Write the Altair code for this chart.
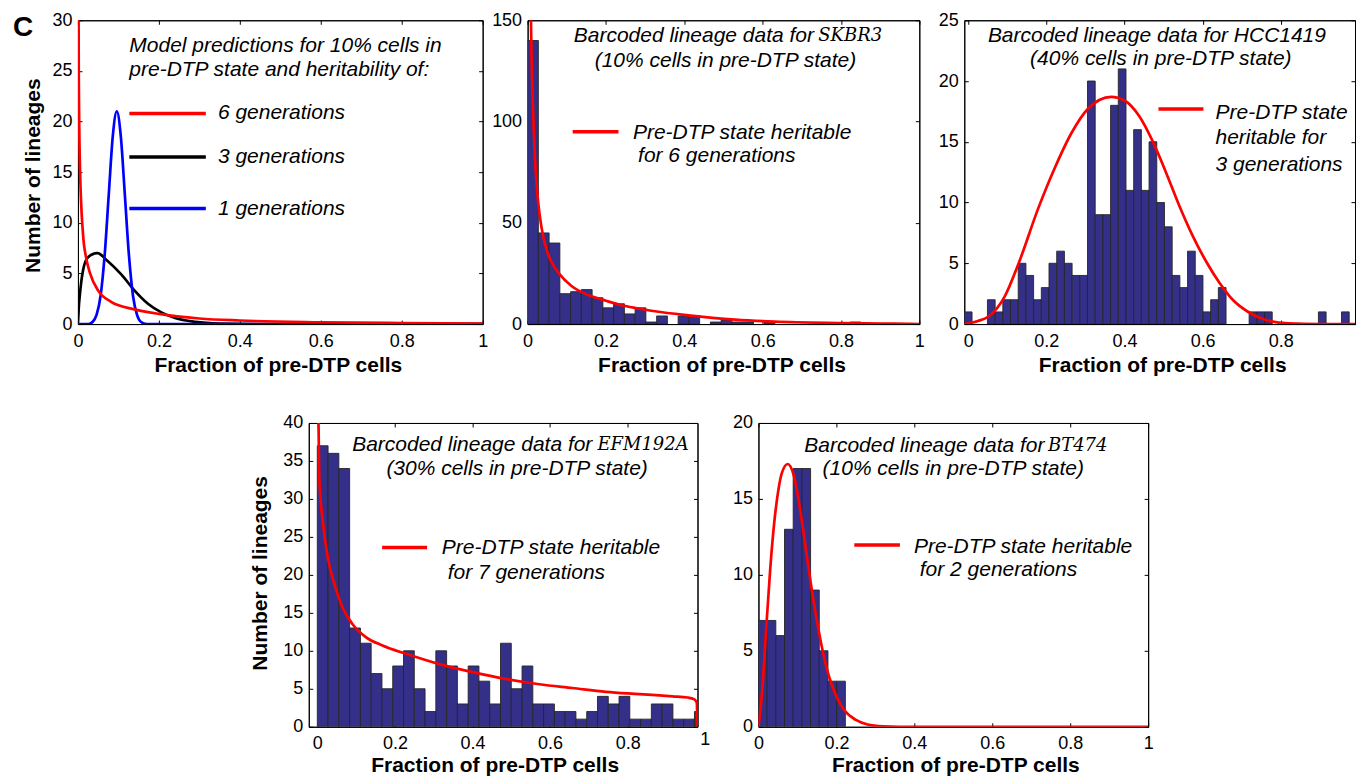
import altair as alt
import pandas as pd

# ---------------- values ----------------
# Panel 1: model predictions (10% pre-DTP), heritability of 6 / 3 / 1 generations
M6_X = [0.0005, 0.002, 0.005, 0.0125, 0.02, 0.03, 0.05, 0.082, 0.14, 0.2, 0.3, 0.4, 0.6, 0.8, 1.0]
M6_Y = [45, 25, 15.5, 8.9, 6.6, 5.0, 3.3, 2.2, 1.45, 1.0, 0.55, 0.35, 0.18, 0.1, 0.05]
M3_X = [0.0, 0.002, 0.005, 0.0125, 0.025, 0.048, 0.074, 0.107, 0.14, 0.173, 0.206, 0.24, 0.29, 0.35, 0.45, 1.0]
M3_Y = [0.0, 1.6, 3.0, 5.3, 6.6, 7.0, 6.2, 4.9, 3.3, 2.0, 1.15, 0.6, 0.22, 0.05, 0.0, 0.0]
M1_X = [0.0, 0.026, 0.036, 0.046, 0.056, 0.066, 0.076, 0.086, 0.096, 0.106, 0.116, 0.126, 0.136, 0.146, 0.156, 0.17, 1.0]
M1_Y = [0.0, 0.0, 0.2, 0.9, 2.8, 6.8, 12.7, 18.5, 21.0, 18.5, 12.7, 6.8, 2.8, 0.9, 0.2, 0.0, 0.0]

# Panel 2: SKBR3
SK_COUNTS = [140, 45, 40, 15, 16, 17, 13, 8, 10, 5, 8, 1, 4, 0, 4, 4, 0, 1, 2, 1, 1, 0, 1, 0, 0, 0, 0, 0, 0, 0, 1]
SK_BIN = 0.02745
SK_FIT_X = [0.004, 0.0085, 0.0144, 0.023, 0.03, 0.038, 0.048, 0.06, 0.082, 0.112, 0.155, 0.2, 0.24, 0.28, 0.325, 0.41, 0.53, 0.63, 0.8, 0.9, 0.97, 1.0]
SK_FIT_Y = [280, 152, 103, 69, 55, 45, 37, 31, 24.5, 18.8, 14.3, 11.5, 9.3, 7.8, 6.3, 4.3, 2.2, 1.2, 0.5, 0.25, 0.1, 0.03]

# Panel 3: HCC1419
HCC_COUNTS = [1, 0, 0, 2, 1, 2, 2, 5, 4, 2, 3, 5, 6, 5, 4, 4, 20, 9, 9, 18,
              21, 11, 16, 11, 15, 10, 8, 4, 3, 6, 4, 1, 2, 3, 0, 0, 0, 1, 1, 1,
              0, 0, 0, 0, 0, 0, 1, 0, 0, 1]
HCC_BIN = 0.0197
HCC_FIT_X = [-0.01, 0.0, 0.025, 0.051, 0.094, 0.128, 0.179, 0.221, 0.264, 0.306, 0.366, 0.40, 0.438,
             0.472, 0.506, 0.540, 0.574, 0.609, 0.643, 0.677, 0.719, 0.762, 0.82, 0.9, 0.99]
HCC_FIT_Y = [0.0, 0.05, 0.25, 0.6, 2.3, 4.9, 9.5, 12.8, 15.7, 17.7, 18.7, 18.4, 17.1,
             15.05, 12.5, 9.76, 7.3, 5.15, 3.4, 2.0, 0.95, 0.33, 0.05, 0.0, 0.0]

# Panel 4: EFM192A
EFM_COUNTS = [37, 36, 34, 13, 11, 7, 5, 8, 10, 5, 2, 10, 8, 3, 8, 6, 3, 11, 5, 8,
              3, 3, 2, 2, 1, 2, 4, 3, 4, 1, 1, 3, 3, 1, 1, 2]
EFM_BIN = 1 / 36
EFM_FIT_X = [0.001, 0.005, 0.014, 0.027, 0.044, 0.065, 0.091, 0.125, 0.168, 0.229, 0.314, 0.40,
             0.486, 0.572, 0.658, 0.744, 0.83, 0.916, 0.955, 0.972, 0.978, 0.98]
EFM_FIT_Y = [48, 32.8, 27.1, 22.3, 18.8, 15.7, 13.5, 11.8, 10.7, 9.6, 8.25, 7.2,
             6.3, 5.6, 5.1, 4.6, 4.3, 4.0, 3.85, 3.6, 3.2, 0.0]

# Panel 5: BT474
BT_COUNTS = [7, 7, 6, 13, 17, 17, 9, 5, 3, 3]
BT_BIN = 0.0223
BT_FIT_X = [0.0, 0.01, 0.02, 0.03, 0.04, 0.05, 0.06, 0.075, 0.09, 0.10, 0.11, 0.12, 0.13, 0.14,
            0.15, 0.16, 0.17, 0.18, 0.20, 0.22, 0.25, 0.28, 0.32, 0.36, 1.0]
BT_FIT_Y = [0.0, 2.5, 6.5, 10.3, 13.3, 15.4, 16.7, 17.3, 16.6, 15.4, 13.8, 12.0, 10.2, 8.5,
            7.0, 5.6, 4.4, 3.4, 2.0, 1.1, 0.45, 0.15, 0.03, 0.0, 0.0]

X_TICKS = [0, 0.2, 0.4, 0.6, 0.8, 1]
XTITLE = "Fraction of pre-DTP cells"
YTITLE = "Number of lineages"

# ---------------- styling ----------------
SANS = "Liberation Sans"
SERIF = "DejaVu Serif"
BAR_FILL = "#34308a"
RED, BLACK, BLUE = "#ff0000", "#000000", "#0000ff"
INWARD = {"expr": "-4"}


def scales(xdom, ydom):
    return (alt.Scale(domain=xdom, nice=False, zero=False),
            alt.Scale(domain=ydom, nice=False, zero=False))


def enc_xy(xf, yf, xsc, ysc):
    return dict(x=alt.X(xf, scale=xsc, axis=None), y=alt.Y(yf, scale=ysc, axis=None))


def bar_layer(counts, width, start, xsc, ysc):
    lo = [start + k * width for k in range(len(counts))]
    df = pd.DataFrame({"x0": lo, "x1": [v + width for v in lo], "n": counts, "z": [0] * len(counts)})
    df = df[df["n"] > 0]
    return alt.Chart(df).mark_rect(fill=BAR_FILL, stroke="#262626", strokeWidth=0.9, clip=True).encode(
        x2="x1:Q", y2="z:Q", **enc_xy("x0:Q", "n:Q", xsc, ysc))


def curve_layer(xs, ys, color, xsc, ysc, width=2.7):
    df = pd.DataFrame({"x": xs, "y": ys})
    return alt.Chart(df).mark_line(color=color, strokeWidth=width, interpolate="monotone", clip=True).encode(
        **enc_xy("x:Q", "y:Q", xsc, ysc))


def legend_rule(x0, x1, y, color, xsc, ysc):
    df = pd.DataFrame({"a": [x0], "b": [x1], "y": [y]})
    return alt.Chart(df).mark_rule(color=color, strokeWidth=3.5).encode(
        x2="b:Q", **enc_xy("a:Q", "y:Q", xsc, ysc))


def text_layer(xs, ys, texts, xsc, ysc, align="left", font=SANS, size=21, style="italic", weight="normal"):
    df = pd.DataFrame({"x": xs, "y": ys, "t": texts})
    return alt.Chart(df).mark_text(align=align, baseline="middle", font=font, fontSize=size,
                                   fontStyle=style, fontWeight=weight, color="black").encode(
        text="t:N", **enc_xy("x:Q", "y:Q", xsc, ysc))


def panel(layers, xsc, ysc, xdom, ydom, xvals, yvals, w, h, xtitle_pos, ytitle=None, ytitle_x=-44, ytitle_y=None):
    df = pd.DataFrame({"x": [xdom[0]], "y": [ydom[0]]})
    yaxis_kw = dict(orient="left", values=yvals, labelFont=SANS, labelFontSize=18, labelColor="black",
                    labelPadding=10, labelFlush=False, tickSize=INWARD, tickColor="black",
                    domainColor="black", grid=False)
    if ytitle:
        yaxis_kw.update(title=ytitle, titleFont=SANS, titleFontSize=21, titleFontWeight="bold",
                        titleColor="black", titleAngle=270, titleAlign="center", titleBaseline="middle",
                        titleX=ytitle_x, titleY=ytitle_y if ytitle_y is not None else h / 2)
    else:
        yaxis_kw.update(title=None)
    main = alt.Chart(df).mark_point(size=0, opacity=0).encode(
        x=alt.X("x:Q", scale=xsc, axis=alt.Axis(
            orient="bottom", values=xvals, format="~g", labelFont=SANS, labelFontSize=18,
            labelColor="black", labelPadding=12, labelFlush=False, tickSize=INWARD, tickColor="black",
            domainColor="black", grid=False, title=XTITLE, titleFont=SANS, titleFontSize=21,
            titleFontWeight="bold", titleColor="black", titleAlign="center", titleBaseline="alphabetic",
            titleX=xtitle_pos[0], titleY=xtitle_pos[1])),
        y=alt.Y("y:Q", scale=ysc, axis=alt.Axis(**yaxis_kw)))
    frame = alt.Chart(df).mark_point(size=0, opacity=0).encode(
        x=alt.X("x:Q", scale=xsc, axis=alt.Axis(orient="top", values=xvals, labels=False, title=None,
                                                tickSize=INWARD, tickColor="black", domainColor="black",
                                                grid=False)),
        y=alt.Y("y:Q", scale=ysc, axis=alt.Axis(orient="right", values=yvals, labels=False, title=None,
                                                tickSize=INWARD, tickColor="black", domainColor="black",
                                                grid=False)))
    return alt.layer(*layers, main, frame).resolve_axis(x="independent", y="independent").properties(
        width=w, height=h)


H = 304

# ---------- panel 1 ----------
xd, yd = [0, 1], [0, 30]
xs1, ys1 = scales(xd, yd)
anchor = alt.Chart(pd.DataFrame({"a": [0]})).mark_rule(opacity=0).encode(
    x=alt.value(-77), x2=alt.value(-76), y=alt.value(-19))
letter = alt.Chart(pd.DataFrame({"a": [0]})).mark_text(
    align="left", baseline="alphabetic", font=SANS, fontSize=28, fontWeight="bold", color="black").encode(
    x=alt.value(-65), y=alt.value(16), text=alt.value("C"))
p1_layers = [
    curve_layer(M3_X, M3_Y, BLACK, xs1, ys1),
    curve_layer(M1_X, M1_Y, BLUE, xs1, ys1),
    curve_layer(M6_X, M6_Y, RED, xs1, ys1),
    text_layer([0.127, 0.127], [27.5, 25.1],
               ["Model predictions for 10% cells in", "pre-DTP state and heritability of:"], xs1, ys1),
    legend_rule(0.127, 0.316, 20.8, RED, xs1, ys1),
    legend_rule(0.127, 0.316, 16.5, BLACK, xs1, ys1),
    legend_rule(0.127, 0.316, 11.4, BLUE, xs1, ys1),
    text_layer([0.346, 0.346, 0.346], [20.8, 16.5, 11.4],
               ["6 generations", "3 generations", "1 generations"], xs1, ys1),
    anchor, letter,
]
p1 = panel(p1_layers, xs1, ys1, xd, yd, X_TICKS, [0, 5, 10, 15, 20, 25, 30], 405, H,
           (200, 47), ytitle=YTITLE, ytitle_x=-44, ytitle_y=155)

# ---------- panel 2 ----------
xd, yd = [0, 1], [0, 150]
xs2, ys2 = scales(xd, yd)
p2_layers = [
    bar_layer(SK_COUNTS, SK_BIN, 0.0, xs2, ys2),
    curve_layer(SK_FIT_X, SK_FIT_Y, RED, xs2, ys2),
    text_layer([0.731], [142], ["Barcoded lineage data for"], xs2, ys2, align="right"),
    text_layer([0.742], [142], ["SKBR3"], xs2, ys2, font=SERIF, size=18),
    text_layer([0.505], [130], ["(10% cells in pre-DTP state)"], xs2, ys2, align="center"),
    legend_rule(0.115, 0.232, 94.9, RED, xs2, ys2),
    text_layer([0.269, 0.282], [94.3, 82.9], ["Pre-DTP state heritable", "for 6 generations"], xs2, ys2),
]
p2 = panel(p2_layers, xs2, ys2, xd, yd, X_TICKS, [0, 50, 100, 150], 392, H, (194, 47))

# ---------- panel 3 ----------
xd, yd = [-0.01, 0.99], [0, 25]
xs3, ys3 = scales(xd, yd)
p3_layers = [
    bar_layer(HCC_COUNTS, HCC_BIN, -HCC_BIN / 2, xs3, ys3),
    curve_layer(HCC_FIT_X, HCC_FIT_Y, RED, xs3, ys3),
    text_layer([0.483], [23.7], ["Barcoded lineage data for HCC1419"], xs3, ys3, align="center"),
    text_layer([0.493], [21.8], ["(40% cells in pre-DTP state)"], xs3, ys3, align="center"),
    legend_rule(0.487, 0.602, 17.7, RED, xs3, ys3),
    text_layer([0.633, 0.633, 0.633], [17.35, 15.3, 13.1],
               ["Pre-DTP state", "heritable for", "3 generations"], xs3, ys3),
]
p3 = panel(p3_layers, xs3, ys3, xd, yd, [0, 0.2, 0.4, 0.6, 0.8], [0, 5, 10, 15, 20, 25], 391, H, (198, 47))

# ---------- panel 4 ----------
xd, yd = [-0.022, 0.98], [0, 40]
xs4, ys4 = scales(xd, yd)
p4_layers = [
    bar_layer(EFM_COUNTS, EFM_BIN, 0.0, xs4, ys4),
    curve_layer(EFM_FIT_X, EFM_FIT_Y, RED, xs4, ys4),
    text_layer([0.709], [37.1], ["Barcoded lineage data for"], xs4, ys4, align="right"),
    text_layer([0.722], [37.1], ["EFM192A"], xs4, ys4, font=SERIF, size=18),
    text_layer([0.515], [33.95], ["(30% cells in pre-DTP state)"], xs4, ys4, align="center"),
    legend_rule(0.167, 0.283, 23.6, RED, xs4, ys4),
    text_layer([0.321, 0.336], [23.5, 20.3], ["Pre-DTP state heritable", "for 7 generations"], xs4, ys4),
    text_layer([1.0], [-1.78], ["1"], xs4, ys4, align="center", size=18, style="normal"),
]
p4 = panel(p4_layers, xs4, ys4, xd, yd, [0, 0.2, 0.4, 0.6, 0.8], [0, 5, 10, 15, 20, 25, 30, 35, 40], 389, H,
           (186, 45), ytitle=YTITLE, ytitle_x=-48, ytitle_y=150)

# ---------- panel 5 ----------
xd, yd = [0, 1], [0, 20]
xs5, ys5 = scales(xd, yd)
p5_layers = [
    bar_layer(BT_COUNTS, BT_BIN, 0.0, xs5, ys5),
    curve_layer(BT_FIT_X, BT_FIT_Y, RED, xs5, ys5),
    text_layer([0.734], [18.5], ["Barcoded lineage data for"], xs5, ys5, align="right"),
    text_layer([0.743], [18.5], ["BT474"], xs5, ys5, font=SERIF, size=18),
    text_layer([0.5], [17.0], ["(10% cells in pre-DTP state)"], xs5, ys5, align="center"),
    legend_rule(0.246, 0.363, 11.96, RED, xs5, ys5),
    text_layer([0.399, 0.414], [11.85, 10.3], ["Pre-DTP state heritable", "for 2 generations"], xs5, ys5),
]
p5 = panel(p5_layers, xs5, ys5, xd, yd, X_TICKS, [0, 5, 10, 15, 20], 390, H, (197, 45))

spacer = alt.Chart(pd.DataFrame({"a": [0]})).mark_rule(opacity=0).encode(
    x=alt.value(0), x2=alt.value(1), y=alt.value(0)).properties(
    width=170, height=10, view=alt.ViewBackground(stroke="transparent"))

top = alt.hconcat(p1, p2, p3, spacing=45, bounds="flush")
bottom = alt.hconcat(spacer, p4, p5, spacing=61, bounds="flush")

chart = alt.vconcat(top, bottom, spacing=37).properties(
    padding={"left": 0, "top": 0, "right": 0, "bottom": 0}, background="white"
).configure_view(stroke="black", strokeWidth=1)

chart.save("out.html", embed_options={"renderer": "svg", "actions": False})
